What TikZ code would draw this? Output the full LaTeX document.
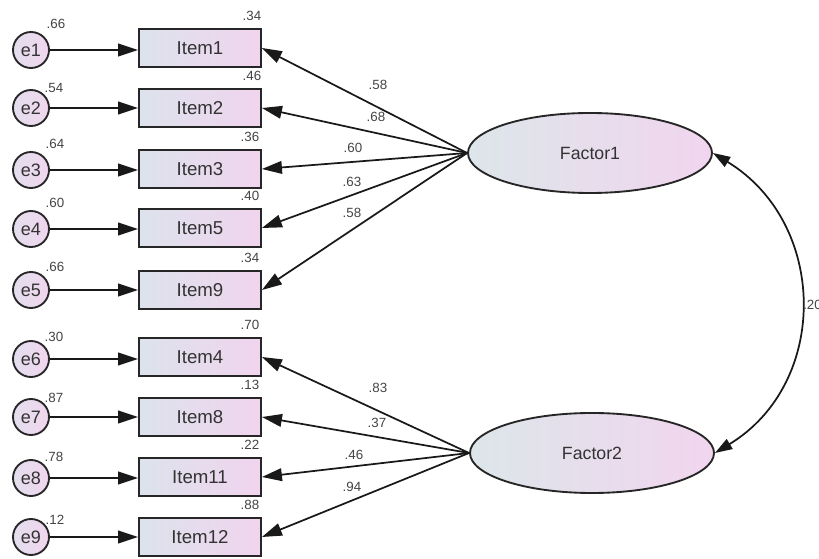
\documentclass[tikz,border=0pt]{standalone}
\usepackage{fontspec}
\setmainfont{Liberation Sans}
\usetikzlibrary{arrows.meta,shapes.geometric,calc}
\definecolor{boxL}{HTML}{DCE3EC}
\definecolor{boxR}{HTML}{F1D4EE}
\definecolor{cirL}{HTML}{E4DEEE}
\definecolor{cirR}{HTML}{F0D6EE}
\definecolor{facL}{HTML}{DDE6EA}
\definecolor{facR}{HTML}{F1D5EE}
\definecolor{txt}{HTML}{333333}
\definecolor{lbltxt}{HTML}{444444}
\begin{document}
\begin{tikzpicture}[x=0.75pt,y=-0.75pt,
 item/.style={draw=black!85,line width=1.4pt,rectangle,minimum width=91.5pt,minimum height=29pt,left color=boxL,right color=boxR,font=\fontsize{14}{16}\selectfont,text=txt,inner sep=0pt},
 err/.style={draw=black!85,line width=1.4pt,circle,minimum size=27pt,inner sep=0pt,left color=cirL,right color=cirR,font=\fontsize{13.5}{16}\selectfont,text=txt},
 fac/.style={draw=black!85,line width=1.4pt,ellipse,minimum width=183pt,minimum height=60pt,inner sep=0pt,left color=facL,right color=facR,font=\fontsize{13.3}{16}\selectfont,text=txt},
 lbl/.style={font=\fontsize{10}{12}\selectfont,text=lbltxt,inner sep=0pt},
 arr/.style={-{Triangle[length=15pt,width=9.5pt]},line width=1.3pt,draw=black!90},
 cov/.style={{Triangle[length=13pt,width=8.5pt]}-{Triangle[length=13pt,width=8.5pt]},line width=1.3pt,draw=black!90},
]
\useasboundingbox (0,0) rectangle (819,559);

% items
\node[item] (i1) at (200,48) {Item1};
\node[item] (i2) at (200,108) {Item2};
\node[item] (i3) at (200,169) {Item3};
\node[item] (i5) at (200,228) {Item5};
\node[item] (i9) at (200,290) {Item9};
\node[item] (i4) at (200,357) {Item4};
\node[item] (i8) at (200,417) {Item8};
\node[item] (i11) at (200,477) {Item11};
\node[item] (i12) at (200,537) {Item12};

% errors
\node[err] (e1) at (31,50) {e1};
\node[err] (e2) at (31,108) {e2};
\node[err] (e3) at (31,170) {e3};
\node[err] (e4) at (31,229) {e4};
\node[err] (e5) at (31,290) {e5};
\node[err] (e6) at (31,359) {e6};
\node[err] (e7) at (31,417) {e7};
\node[err] (e8) at (31,478) {e8};
\node[err] (e9) at (31,537) {e9};

% factors
\node[fac] (f1) at (590,153) {Factor1};
\node[fac] (f2) at (592,453) {Factor2};

% error arrows
\foreach \e/\i in {e1/i1,e2/i2,e3/i3,e4/i5,e5/i9,e6/i4,e7/i8,e8/i11,e9/i12}
  \draw[arr] (\e) -- (\i.west|-\e);

% loadings
\foreach \i in {i1,i2,i3,i5,i9}
  \draw[arr] (f1.west) -- (\i.east);
\foreach \i in {i4,i8,i11,i12}
  \draw[arr] (f2.west) -- (\i.east);

% covariance
\draw[cov] (f1.east) .. controls +(115,70) and +(115,-70) .. (f2.east);
\node[lbl,anchor=west] (r) at (803,305) {.20};

% error variance labels
\node[lbl] (v1) at ($(e1)+(25,-26)$) {.66};
\node[lbl] (v2) at ($(e2)+(23,-20)$) {.54};
\node[lbl] (v3) at ($(e3)+(24,-26)$) {.64};
\node[lbl] (v4) at ($(e4)+(24,-26)$) {.60};
\node[lbl] (v5) at ($(e5)+(24,-23)$) {.66};
\node[lbl] (v6) at ($(e6)+(23,-22)$) {.30};
\node[lbl] (v7) at ($(e7)+(23,-19)$) {.87};
\node[lbl] (v8) at ($(e8)+(23,-21)$) {.78};
\node[lbl] (v9) at ($(e9)+(24,-17)$) {.12};

% R squared labels
\node[lbl] (s1) at ($(i1.north east)+(-10,-12)$) {.34};
\node[lbl] (s2) at ($(i2.north east)+(-10,-12)$) {.46};
\node[lbl] (s3) at ($(i3.north east)+(-12,-12)$) {.36};
\node[lbl] (s5) at ($(i5.north east)+(-12,-12)$) {.40};
\node[lbl] (s9) at ($(i9.north east)+(-12,-12)$) {.34};
\node[lbl] (s4) at ($(i4.north east)+(-12,-12)$) {.70};
\node[lbl] (s8) at ($(i8.north east)+(-12,-12)$) {.13};
\node[lbl] (s11) at ($(i11.north east)+(-12,-12)$) {.22};
\node[lbl] (s12) at ($(i12.north east)+(-12,-12)$) {.88};

% loading labels
\node[lbl] (l1) at (378,85) {.58};
\node[lbl] (l2) at (376,117) {.68};
\node[lbl] (l3) at (353,148) {.60};
\node[lbl] (l5) at (352,182) {.63};
\node[lbl] (l9) at (352,213) {.58};
\node[lbl] (l4) at (378,388) {.83};
\node[lbl] (l8) at (377,423) {.37};
\node[lbl] (l11) at (354,455) {.46};
\node[lbl] (l12) at (352,487) {.94};
\end{tikzpicture}
\end{document}
